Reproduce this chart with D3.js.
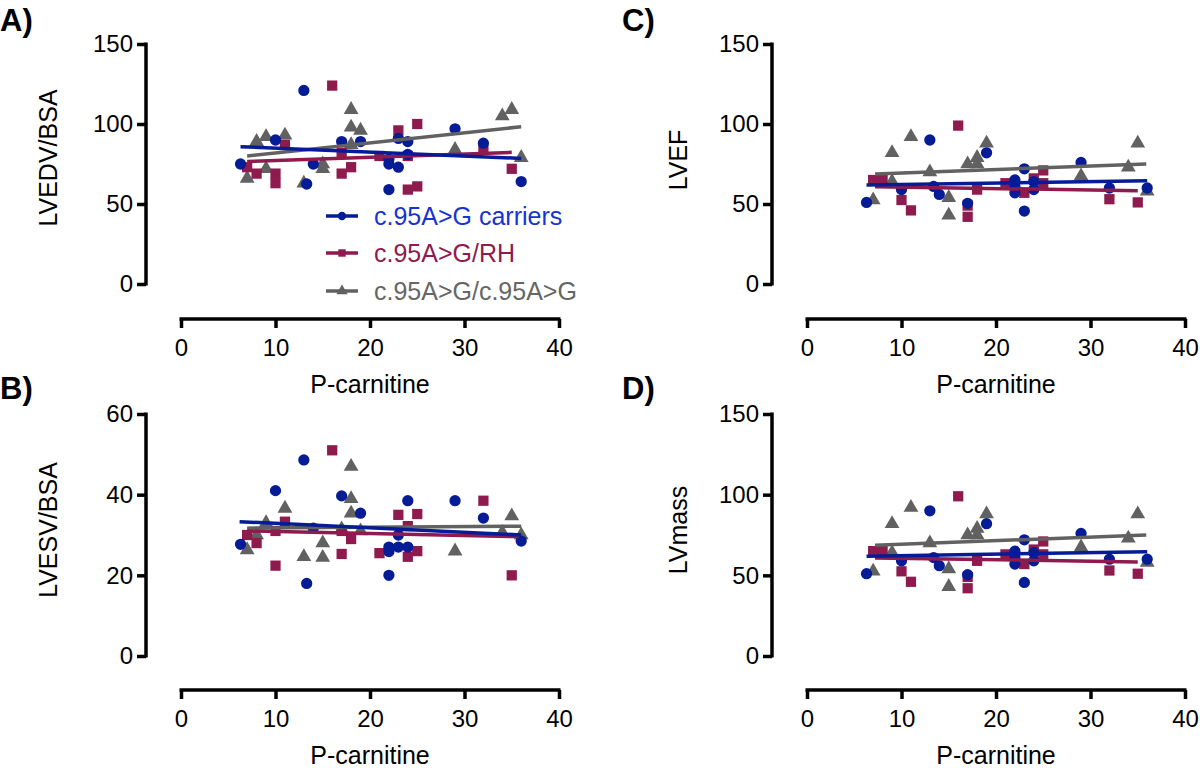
<!DOCTYPE html>
<html>
<head>
<meta charset="utf-8">
<script src="https://cdn.jsdelivr.net/npm/d3@7"></script>
<style>
  body { margin: 0; background: #fff; }
  svg { font-family: "Liberation Sans", Arial, Helvetica, sans-serif; }
  .axis path, .axis line { stroke: #000; stroke-width: 3.5; }
  .axis text { font-size: 24px; fill: #000; }
</style>
</head>
<body>
<svg id="chart" width="1200" height="768"></svg>
<script>
// x ticks / y ticks
const xTicks = [0, 10, 20, 30, 40];
const yTicks150 = [0, 50, 100, 150];
const yTicks60 = [0, 20, 40, 60];

const seriesNames = ["c.95A>G carriers", "c.95A>G/RH", "c.95A>G/c.95A>G"];

// A) LVEDV/BSA
const lvedvCarriers = [[13,121],[10,90],[6.3,75],[14,75],[13.3,62.5],[17,89],[19,89],[23,91],[24,89],[24,81],[22,78],[22,75],[23,73],[22,59],[29,97],[32,88],[36,64]];
const lvedvRH = [[16,124],[23,96],[25,100],[11,87],[17,82],[17,69],[18,73],[21,80],[24,80],[7,73],[8,69],[10,69],[10,63],[24,59],[25,61],[32,85],[35,72]];
const lvedvHom = [[8,89],[9,92],[11,93],[7,66],[9,72],[13,63],[15,75],[15,72],[18,109],[18,98],[19,96],[18,87],[29,84],[34,105],[35,109],[36,79]];
const lvedvFits = [[[6.3,85.8],[36,78.5]], [[7,76.5],[35,82.3]], [[7,80],[36,98.3]]];

// B) LVESV/BSA
const lvesvCarriers = [[13,48.6],[10,41],[17,39.7],[19,35.4],[24,38.5],[29,38.5],[32,34.2],[14,31.7],[6.3,27.7],[36,28.5],[23,30],[22,27],[23,27],[24,27],[22,25.9],[22,20],[13.3,18]];
const lvesvRH = [[16,51],[11,33.3],[10,31],[7,30],[8,28],[10,22.4],[17,31],[18,29],[17,25.3],[21,25.5],[23,35],[25,35.2],[24,32.2],[25,26],[24,24.6],[32,38.5],[35,20]];
const lvesvHom = [[18,47],[11,36.6],[9,33],[8,30],[7,26.3],[18,39],[18,35.4],[19,31],[17,31.5],[15,28],[13,24.6],[15,24.4],[29,26],[35,34.7],[34,30.6],[36,30]];
const lvesvFits = [[[6.2,33.3],[36,30]], [[7,31],[35.8,29.6]], [[7,31.7],[36,32.2]]];

// C) LVEF
const lvefCarriers = [[13,90],[19,82],[29,76],[23,72],[22,65],[22,61],[22,57],[24,64],[24,59],[13.4,61],[10,59],[14,56],[6.3,51],[17,50.4],[23,45.6],[32,60],[36,60]];
const lvefRH = [[16,99],[7,65],[8,65],[10,52.5],[11,46],[17,49],[17,42],[18,59],[21,63],[23,57],[24,66],[25,71],[25,63],[32,53],[35,51]];
const lvefHom = [[11,92],[9,82],[19,88],[18,79],[17,75],[18,75],[13,70],[9,64],[7,52.5],[15,54],[15,43],[29,67.5],[34,73],[35,88],[36,58]];
const lvefFits = [[[6.3,61.9],[36,64.6]], [[7.2,60.8],[35,58.3]], [[7.2,68.7],[35.9,75]]];

// D) LVmass (the picture shows the same points as C)
const lvmassCarriers = [[13,90],[19,82],[29,76],[23,72],[22,65],[22,61],[22,57],[24,64],[24,59],[13.4,61],[10,59],[14,56],[6.3,51],[17,50.4],[23,45.6],[32,60],[36,60]];
const lvmassRH = [[16,99],[7,65],[8,65],[10,52.5],[11,46],[17,49],[17,42],[18,59],[21,63],[23,57],[24,66],[25,71],[25,63],[32,53],[35,51]];
const lvmassHom = [[11,92],[9,82],[19,88],[18,79],[17,75],[18,75],[13,70],[9,64],[7,52.5],[15,54],[15,43],[29,67.5],[34,73],[35,88],[36,58]];
const lvmassFits = [[[6.3,61.9],[36,64.6]], [[7.2,60.8],[35,58.3]], [[7.2,68.7],[35.9,75]]];

const colors = ["#061c96", "#8e1a4e", "#616161"];
const textColors = ["#1733d2", "#8e1a4e", "#666666"];
const symbols = [d3.symbolCircle, d3.symbolSquare, d3.symbolTriangle];
const symSizes = [100, 105, 95];

const svg = d3.select("#chart");

const panels = [
  { label: "A)", title: "LVEDV/BSA", yMax: 150, yTicks: yTicks150, data: [lvedvCarriers, lvedvRH, lvedvHom], fits: lvedvFits,
    lx: 0, ly: 31, yAxisX: 146, yTop: 44, yBot: 284, xAxisY: 319, x0: 181, x1: 559, titleX: 48, titleY: 158, legend: true },
  { label: "B)", title: "LVESV/BSA", yMax: 60, yTicks: yTicks60, data: [lvesvCarriers, lvesvRH, lvesvHom], fits: lvesvFits,
    lx: 0, ly: 399, yAxisX: 146, yTop: 414, yBot: 656, xAxisY: 690, x0: 181, x1: 559, titleX: 48, titleY: 530 },
  { label: "C)", title: "LVEF", yMax: 150, yTicks: yTicks150, data: [lvefCarriers, lvefRH, lvefHom], fits: lvefFits,
    lx: 622, ly: 31, yAxisX: 772, yTop: 44, yBot: 284, xAxisY: 319, x0: 807, x1: 1185, titleX: 678, titleY: 160 },
  { label: "D)", title: "LVmass", yMax: 150, yTicks: yTicks150, data: [lvmassCarriers, lvmassRH, lvmassHom], fits: lvmassFits,
    lx: 622, ly: 399, yAxisX: 772, yTop: 414, yBot: 656, xAxisY: 690, x0: 807, x1: 1185, titleX: 678, titleY: 530 },
];

panels.forEach(drawPanel);

function drawPanel(p) {
  const x = d3.scaleLinear().domain([0, 40]).range([p.x0, p.x1]);
  const y = d3.scaleLinear().domain([0, p.yMax]).range([p.yBot, p.yTop]);

  // 패널 라벨
  svg.append("text")
    .attr("x", p.lx).attr("y", p.ly)
    .attr("font-size", 31).attr("font-weight", "bold")
    .text(p.label);

  // 축
  svg.append("g")
    .attr("class", "axis")
    .attr("transform", `translate(${p.yAxisX},0)`)
    .call(d3.axisLeft(y).tickValues(p.yTicks).tickSize(9).tickSizeOuter(0).tickPadding(4))
    .select(".domain").attr("d", `M0,${p.yBot + 1.5}V${p.yTop - 1.5}`);

  svg.append("g")
    .attr("class", "axis")
    .attr("transform", `translate(0,${p.xAxisY})`)
    .call(d3.axisBottom(x).tickValues(xTicks).tickSize(9).tickSizeOuter(0).tickPadding(11))
    .select(".domain").attr("d", `M${p.x0 - 1.5},0H${p.x1 + 1.5}`);

  svg.append("text")
    .attr("x", (p.x0 + p.x1) / 2).attr("y", p.xAxisY + 74)
    .attr("text-anchor", "middle").attr("font-size", 25)
    .text("P-carnitine");

  svg.append("text")
    .attr("transform", `translate(${p.titleX},${p.titleY}) rotate(-90)`)
    .attr("text-anchor", "middle").attr("dy", "0.35em").attr("font-size", 25)
    .text(p.title);

  // 점 + 회귀선 (gray -> maroon -> blue)
  const line = d3.line().x((d) => x(d[0])).y((d) => y(d[1]));
  [2, 1, 0].forEach((i) => {
    svg.append("g").selectAll("path")
      .data(p.data[i])
      .join("path")
      .attr("transform", (d) => `translate(${x(d[0])},${y(d[1])})`)
      .attr("d", d3.symbol(symbols[i], symSizes[i]))
      .attr("fill", colors[i]);
  });
  [2, 1, 0].forEach((i) => {
    svg.append("path")
      .attr("d", line(p.fits[i]))
      .attr("fill", "none")
      .attr("stroke", colors[i])
      .attr("stroke-width", 3.5);
  });

  if (p.legend) drawLegend();
}

function drawLegend() {
  const rows = [216, 253, 291];
  seriesNames.forEach((name, i) => {
    const g = svg.append("g").attr("transform", `translate(0,${rows[i]})`);
    g.append("line")
      .attr("x1", 326).attr("x2", 358)
      .attr("stroke", colors[i]).attr("stroke-width", 3.5);
    g.append("path")
      .attr("transform", "translate(342,0)")
      .attr("d", d3.symbol(symbols[i], 55))
      .attr("fill", colors[i]);
    g.append("text")
      .attr("x", 374).attr("dy", "0.36em")
      .attr("font-size", 25)
      .attr("fill", textColors[i])
      .text(name);
  });
}
</script>
</body>
</html>
